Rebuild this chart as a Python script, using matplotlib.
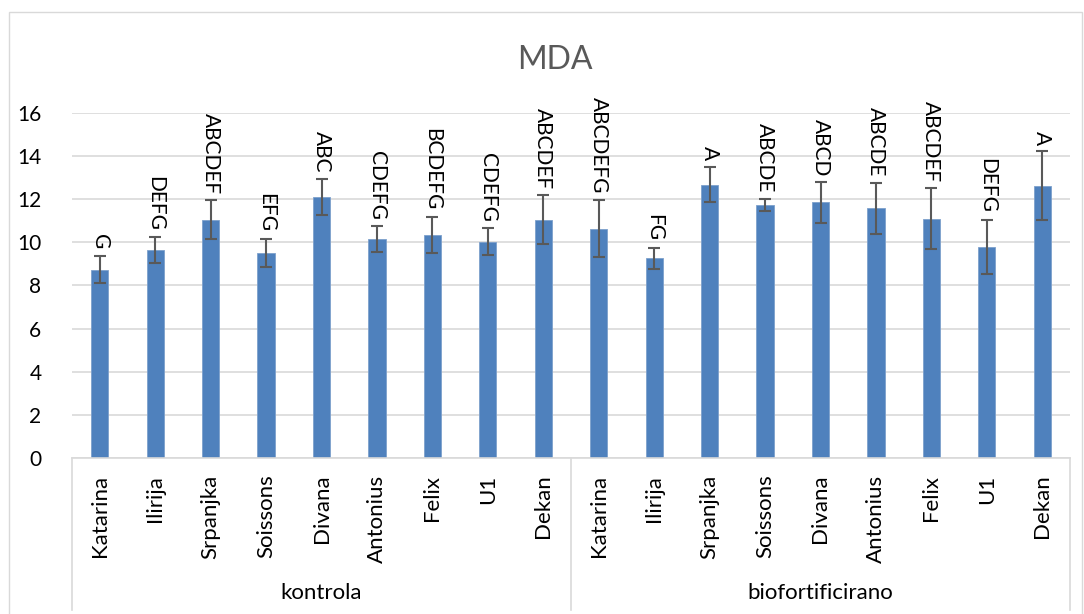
import matplotlib.pyplot as plt
from matplotlib.patches import Rectangle
import numpy as np

plt.rcParams["font.family"] = ["Lato", "DejaVu Sans"]

varieties = ["Katarina", "Ilirija", "Srpanjka", "Soissons", "Divana",
             "Antonius", "Felix", "U1", "Dekan"]
groups = ["kontrola", "biofortificirano"]

mda_kontrola = [8.72, 9.63, 11.05, 9.52, 12.10, 10.13, 10.34, 10.03, 11.05]
err_kontrola = [0.63, 0.59, 0.89, 0.65, 0.85, 0.60, 0.84, 0.62, 1.13]
letters_kontrola = ["G", "DEFG", "ABCDEF", "EFG", "ABC", "CDEFG", "BCDEFG",
                    "CDEFG", "ABCDEF"]

mda_bio = [10.63, 9.26, 12.67, 11.73, 11.84, 11.57, 11.08, 9.79, 12.61]
err_bio = [1.33, 0.49, 0.81, 0.28, 0.93, 1.17, 1.41, 1.26, 1.60]
letters_bio = ["ABCDEFG", "FG", "A", "ABCDE", "ABCD", "ABCDE", "ABCDEF",
               "DEFG", "A"]

values = mda_kontrola + mda_bio
errors = err_kontrola + err_bio
letters = letters_kontrola + letters_bio
labels = varieties + varieties
x = np.arange(len(values))

fig = plt.figure(figsize=(10.84, 6.14), dpi=100)
ax = fig.add_axes([72 / 1084, 1 - 458 / 614, 998 / 1084, 345.3 / 614])

# light chart border like in Excel
fig.patches.append(Rectangle((9 / 1084, -0.01), 1073 / 1084, 1 - 12 / 614 + 0.01,
                             transform=fig.transFigure, fill=False,
                             edgecolor="#d9d9d9", lw=1))

ax.bar(x, values, width=0.31, color="#4f81bd", edgecolor="#7da0cc", lw=0.6, zorder=2)
ax.errorbar(x, values, yerr=errors, fmt="none", ecolor="#595959",
            elinewidth=1.5, capsize=4.5, capthick=1.5, zorder=3)

for xi, v, e, s in zip(x, values, errors, letters):
    ax.text(xi, v + e + 0.3, s, rotation=270, ha="center", va="bottom",
            fontsize=15, color="black", zorder=4)

ax.set_xlim(-0.5, len(values) - 0.5)
ax.set_ylim(0, 16)
ax.set_yticks(range(0, 17, 2))
ax.yaxis.grid(True, color="#d9d9d9", lw=1.2)
ax.set_axisbelow(True)
ax.tick_params(axis="y", length=0, pad=22, labelsize=15)
ax.set_xticks(x)
ax.set_xticklabels(labels, rotation=90, fontsize=16)
ax.tick_params(axis="x", length=0, pad=12)
for side in ["left", "right", "top"]:
    ax.spines[side].set_visible(False)
ax.spines["bottom"].set_color("#d9d9d9")
ax.spines["bottom"].set_linewidth(1.2)

# multi-level category box
trans = ax.get_xaxis_transform()
n = len(varieties)
for xs in [-0.5, n - 0.5, 2 * n - 0.5]:
    ax.plot([xs, xs], [0, -0.44], transform=trans, color="#d9d9d9",
            lw=1.2, clip_on=False)
for i, g in enumerate(groups):
    ax.text(i * n + (n - 1) / 2, -0.39, g, transform=trans, ha="center",
            va="center", fontsize=16)

fig.text(555 / 1084, 1 - 60 / 614, "MDA", ha="center", va="center",
         fontsize=23, color="#595959")

fig.savefig("out.png", dpi=100)
